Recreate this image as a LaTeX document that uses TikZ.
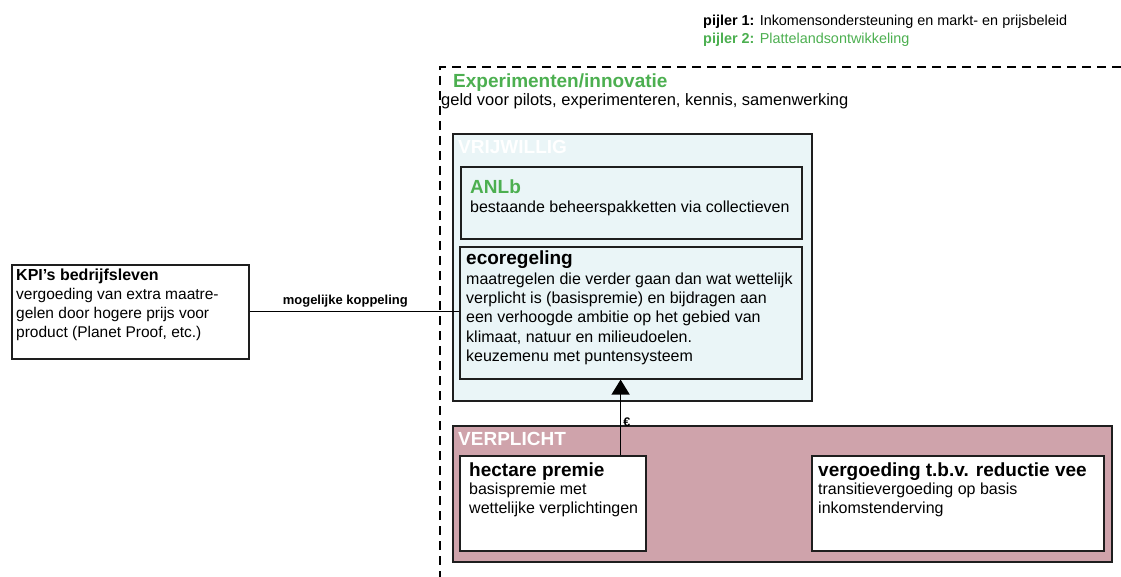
\documentclass[tikz,border=0pt]{standalone}
\usepackage{fontspec}
\setmainfont{Liberation Sans}
\usetikzlibrary{arrows.meta,positioning}
\definecolor{pijlergroen}{HTML}{4CAF50}
\definecolor{vrijblauw}{HTML}{EAF5F7}
\definecolor{plichtroze}{HTML}{CFA3AB}
\definecolor{rand}{HTML}{1E1E1E}
\newcommand{\fs}[2]{\fontsize{#1}{#2}\selectfont}

\begin{document}
\begin{tikzpicture}[x=1pt, y=-1pt,
	box/.style={draw=rand, line width=1.6pt, anchor=north west, inner sep=0pt},
	txt/.style={anchor=north west, inner sep=0pt, align=left},
	kop/.style={txt, font=\fs{19}{22}\bfseries},
	tekst/.style={txt, font=\fs{16}{19.5}}]
		\useasboundingbox (0,0) rectangle (1121,577);

		% legenda
		\node[txt, font=\fs{14.4}{18}] (legenda) at (703,15)
			{\textbf{pijler 1:} Inkomensondersteuning en markt- en prijsbeleid\\
			\textcolor{pijlergroen}{\textbf{pijler 2:} Plattelandsontwikkeling}};

		% pijler 2 kader
		\draw[line width=1.8pt, dash pattern=on 9pt off 6pt] (1121,67) -- (440,67) -- (440,577);
		\node[kop, text=pijlergroen] (expkop) at (453,73.5) {Experimenten/innovatie};
		\node[tekst, font=\fs{16.5}{19.5}] (exptekst) at (441,93.2) {geld voor pilots, experimenteren, kennis, samenwerking};

		% vrijwillig
		\node[box, fill=vrijblauw, minimum width=359pt, minimum height=267pt] (vrij) at (452,133) {};
		\node[kop, text=white] (vrijkop) at (458,140.5) {VRIJWILLIG};
		\node[box, minimum width=341pt, minimum height=72pt] (anlb) at (460,166) {};
		\node[kop, text=pijlergroen] (anlbkop) at (470,179.5) {ANLb};
		\node[tekst] (anlbtekst) at (470,200.5) {bestaande beheerspakketten via collectieven};
		\node[box, minimum width=342pt, minimum height=132pt] (eco) at (459,246) {};
		\node[kop] (ecokop) at (466,250.5) {ecoregeling};
		\node[tekst, font=\fs{16}{19.3}] (ecotekst) at (466,272.5)
			{maatregelen die verder gaan dan wat wettelijk\\
			verplicht is (basispremie) en bijdragen aan\\
			een verhoogde ambitie op het gebied van\\
			klimaat, natuur en milieudoelen.\\
			keuzemenu met puntensysteem};

		% verplicht
		\node[box, fill=plichtroze, minimum width=659pt, minimum height=136pt] (verplicht) at (452,425) {};
		\node[kop, text=white] (verplichtkop) at (458,432.5) {VERPLICHT};
		\node[box, fill=white, minimum width=186pt, minimum height=95pt] (hectare) at (459,455) {};
		\node[kop] (hectarekop) at (469,462.5) {hectare premie};
		\node[tekst, font=\fs{16}{19}] (hectaretekst) at (469,483.2)
			{basispremie met\\ wettelijke verplichtingen};
		\node[box, fill=white, minimum width=292pt, minimum height=95pt] (reductie) at (811,455) {};
		\node[kop] (reductiekop) at (818,462.5) {vergoeding t.b.v. reductie vee};
		\node[tekst, font=\fs{16}{19}] (reductietekst) at (818,483.2)
			{transitievergoeding op basis\\ inkomstenderving};

		% bedrijfsleven
		\node[box, minimum width=237pt, minimum height=94pt] (kpi) at (11,264) {};
		\node[txt, font=\fs{16}{20}\bfseries] (kpikop) at (16,269) {KPI’s bedrijfsleven};
		\node[tekst, font=\fs{15.5}{19}] (kpitekst) at (16,288)
			{vergoeding van extra maatre-\\
			gelen door hogere prijs voor\\
			product (Planet Proof, etc.)};

		% verbindingen
		\draw[line width=1.3pt] (kpi.east) -- (kpi.east -| eco.west)
			node[pos=0.457, above=4pt, inner sep=0pt, font=\fs{13}{15}\bfseries] (koppeling) {mogelijke koppeling};
		\draw[line width=1.5pt, -{Triangle[width=18pt,length=15pt]}]
			([xshift=-26pt]hectare.north east) -- ([xshift=-26pt]hectare.north east |- eco.south)
			node[pos=0.44, anchor=west, inner sep=2pt, font=\fs{12.5}{14}\bfseries] (euro) {€};
	\end{tikzpicture}
\end{document}
